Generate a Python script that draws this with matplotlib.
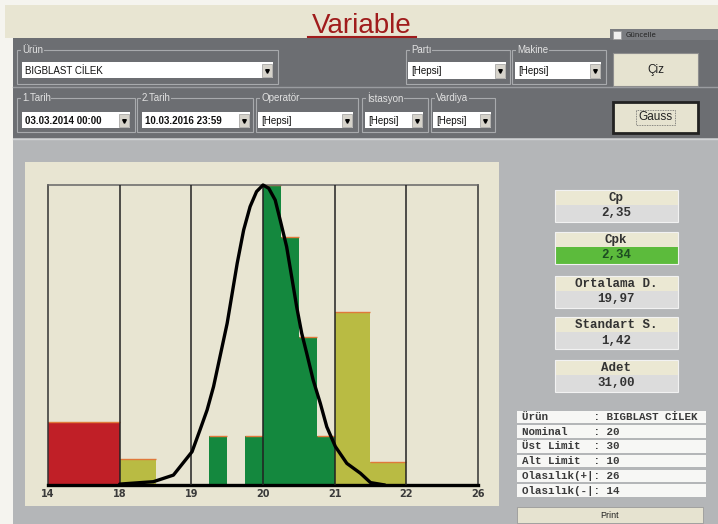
import numpy as np
import matplotlib
matplotlib.use("Agg")
import matplotlib.pyplot as plt
from matplotlib.patches import Rectangle

# ---------------- DATA ----------------
TICKS = [14, 18, 19, 20, 21, 22, 26]

bin_lo = [14, 18, 19.25, 19.75, 20.0, 20.25, 20.5, 20.75, 21.0, 21.5]
bin_hi = [18, 18.5, 19.5, 20.0, 20.25, 20.5, 20.75, 21.0, 21.5, 22.0]
bin_h = [1.29, 0.53, 1.0, 1.0, 6.12, 5.06, 3.02, 1.0, 3.53, 0.47]
bin_kind = ["red", "yel", "grn", "grn", "grn", "grn", "grn", "grn", "yel", "yel"]

# gauss curve (fraction of peak)
curve_x = [18.0, 18.47, 18.75, 19.01, 19.12, 19.22, 19.31, 19.40, 19.50, 19.57,
           19.64, 19.73, 19.82, 19.91, 20.0, 20.08, 20.17, 20.24, 20.33, 20.40,
           20.47, 20.54, 20.61, 20.70, 20.80, 20.89, 21.01, 21.17, 21.36, 21.5, 21.7]
curve_f = [0.003, 0.011, 0.033, 0.111, 0.183, 0.25, 0.328, 0.428, 0.539, 0.639,
           0.739, 0.85, 0.928, 0.978, 1.0, 0.989, 0.95, 0.883, 0.794, 0.694,
           0.594, 0.506, 0.439, 0.35, 0.272, 0.194, 0.128, 0.072, 0.039, 0.008, 0.0]

stat_names = ["Cp", "Cpk", "Ortalama D.", "Standart S.", "Adet"]
stat_values = ["2,35", "2,34", "19,97", "1,42", "31,00"]

info_labels = ["Ürün", "Nominal", "Üst Limit", "Alt Limit", "Olasılık(+|", "Olasılık(-|"]
info_values = ["BIGBLAST CİLEK", "20", "30", "10", "26", "14"]

# ---------------- COLOURS ----------------
BEIGE = "#e8e5d2"
DARK = "#6c6e72"
GRAY = "#b4b6b8"
COLORS = {"red": "#c01f27", "yel": "#b9bb43", "grn": "#14883e"}
EDGE_TOP = "#e0793a"

fig = plt.figure(figsize=(7.18, 5.24), dpi=100)
fig.patch.set_facecolor("#f5f4ef")

bg = fig.add_axes([0, 0, 1, 1])
bg.set_xlim(0, 718)
bg.set_ylim(524, 0)
bg.axis("off")


def rect(x0, y0, x1, y1, fc="none", ec="none", lw=0.0, z=1, ls="-"):
    bg.add_patch(Rectangle((x0, y0), x1 - x0, y1 - y0, facecolor=fc,
                           edgecolor=ec, linewidth=lw, zorder=z, linestyle=ls))


def txt(x, y, s, **kw):
    kw.setdefault("va", "center")
    kw.setdefault("zorder", 5)
    bg.text(x, y, s, **kw)


# background blocks
rect(5, 5, 718, 38, BEIGE)
rect(13, 38, 718, 138, DARK)
rect(13, 138, 718, 524, GRAY)
bg.plot([13, 718], [87, 87], color="#9a9ca0", lw=1, zorder=2)
bg.plot([13, 718], [139, 139], color="#d0d2d4", lw=1, zorder=2)

# title
txt(362, 33, "Variable", ha="center", va="baseline", fontsize=20,
    color="#a01c1c", family="Liberation Sans")
bg.plot([308, 416], [37, 37], color="#a01c1c", lw=1.5, zorder=5)

# Güncelle checkbox
rect(610, 29, 718, 40, "#7a7c80")
rect(613, 31, 621, 39, "#f0f0f0", "#999999", 0.5, z=3)
txt(626, 35, "Güncelle", fontsize=5, color="#222222")


def group(x0, x1, y0, y1, label):
    rect(x0, y0, x1, y1, ec="#a8aaad", lw=0.8, z=2)
    txt(x0 + 5, y0, label, fontsize=7, color="#e2e2e2", family="Liberation Sans",
        bbox=dict(facecolor=DARK, edgecolor="none", pad=0.4))


def combo(x0, x1, y0, y1, s, bold=False):
    rect(x0, y0, x1, y1, "white", z=3)
    rect(x1 - 11, y0 + 2, x1 - 1, y1 - 1, "#d6d3cb", "#8a8a8a", 0.4, z=4)
    bg.plot([x1 - 6], [(y0 + y1) / 2 + 0.5], marker="v", ms=2.6, color="black", zorder=6)
    txt(x0 + 3, (y0 + y1) / 2 + 0.5, s, fontsize=7, color="#111111",
        family="Liberation Sans", fontweight="bold" if bold else "normal")


def button(x0, x1, y0, y1, s, dark_border=False):
    rect(x0, y0, x1, y1, "#e6e3d0", "#222222" if dark_border else "#8e8e8e",
         2.0 if dark_border else 0.8, z=3)
    txt((x0 + x1) / 2, (y0 + y1) / 2, s, ha="center", fontsize=8.5,
        color="#222222", family="Liberation Sans")


group(17, 278, 50, 84, "Ürün")
combo(22, 273, 62, 78, "BIGBLAST CİLEK")
group(406, 510, 50, 84, "Partı")
combo(408, 506, 62, 79, "[Hepsi]")
group(512, 606, 50, 84, "Makine")
combo(515, 601, 62, 79, "[Hepsi]")
button(613, 698, 53, 86, "Çiz")

group(17, 135, 98, 132, "1.Tarih")
combo(22, 130, 112, 128, "03.03.2014 00:00", bold=True)
group(137, 253, 98, 132, "2.Tarih")
combo(142, 250, 112, 128, "10.03.2016 23:59", bold=True)
group(256, 358, 98, 132, "Operatör")
combo(258, 353, 112, 128, "[Hepsi]")
group(362, 428, 98, 132, "İstasyon")
combo(365, 423, 112, 128, "[Hepsi]")
group(431, 495, 98, 132, "Vardiya")
combo(433, 491, 112, 128, "[Hepsi]")
button(613, 698, 102, 133, "Gauss", dark_border=True)
rect(636, 110, 675, 125, ec="#666666", lw=0.6, z=4, ls=(0, (1, 1)))

# chart panel
rect(25, 162, 499, 506, BEIGE, z=1)

# stat boxes
tops = [190, 232, 276, 317, 360]
for i, (name, val) in enumerate(zip(stat_names, stat_values)):
    y0 = tops[i]
    rect(555, y0, 678, y0 + 15, "#ebe8d3", z=2)
    vc = "#5cbb3c" if name == "Cpk" else "#dcdcdc"
    rect(555, y0 + 15, 678, y0 + 32, vc, z=2)
    rect(555, y0, 678, y0 + 32, ec="#f2f2f2", lw=0.8, z=3)
    txt(616, y0 + 8, name, ha="center", fontsize=9, fontweight="bold",
        color="#333333", family="Liberation Mono")
    txt(616, y0 + 23.5, val, ha="center", fontsize=9, fontweight="bold",
        color="#1d4d22" if name == "Cpk" else "#333333", family="Liberation Mono")

# info table
for i, (lab, val) in enumerate(zip(info_labels, info_values)):
    yc = 417 + i * 14.7
    rect(517, yc - 6.3, 706, yc + 6.3, "#f7f7f5", z=2)
    txt(522, yc, f"{lab:<11}: {val}", fontsize=7.8, fontweight="bold",
        color="#3a3a3a", family="Liberation Mono")

rect(517, 507, 703, 523, "#e6e3d0", "#9a9a9a", 0.6, z=2)
txt(610, 515, "Print", ha="center", fontsize=6.5, color="#222222", family="Liberation Sans")

# ---------------- HISTOGRAM ----------------
ax = fig.add_axes([48 / 718, (524 - 485) / 524, 430 / 718, 300 / 524])
ax.set_facecolor(BEIGE)

slots = np.arange(len(TICKS))


def fwd(v):
    return np.interp(v, TICKS, slots)


def inv(s):
    return np.interp(s, slots, TICKS)


ax.set_xscale("function", functions=(fwd, inv))
ax.set_xlim(TICKS[0], TICKS[-1])
ymax = max(bin_h)
ax.set_ylim(0, ymax)

lo = np.array(bin_lo)
hi = np.array(bin_hi)
ax.bar(lo, bin_h, width=hi - lo, align="edge",
       color=[COLORS[k] for k in bin_kind], linewidth=0, zorder=1)
ax.hlines(bin_h, lo, hi, color=EDGE_TOP, lw=1.0, zorder=2)

ax.vlines(TICKS[1:-1], 0, ymax, color="#222222", lw=1.1, zorder=3)

ax.plot(curve_x, np.array(curve_f) * ymax, color="black", lw=2.4,
        solid_joinstyle="round", solid_capstyle="round", zorder=4, clip_on=False)

for side in ["left", "right", "top"]:
    ax.spines[side].set_color("#333333")
    ax.spines[side].set_linewidth(1.1)
ax.spines["top"].set_color("#666666")
ax.spines["bottom"].set_linewidth(2.4)
ax.spines["bottom"].set_color("black")

ax.set_yticks([])
ax.set_xticks(TICKS)
ax.set_xticklabels([str(t) for t in TICKS], fontsize=7, fontweight="bold",
                   color="#3a3a3a")
ax.xaxis.set_minor_locator(matplotlib.ticker.NullLocator())
ax.tick_params(axis="x", length=0, pad=3)

fig.savefig("out.png", dpi=100)
